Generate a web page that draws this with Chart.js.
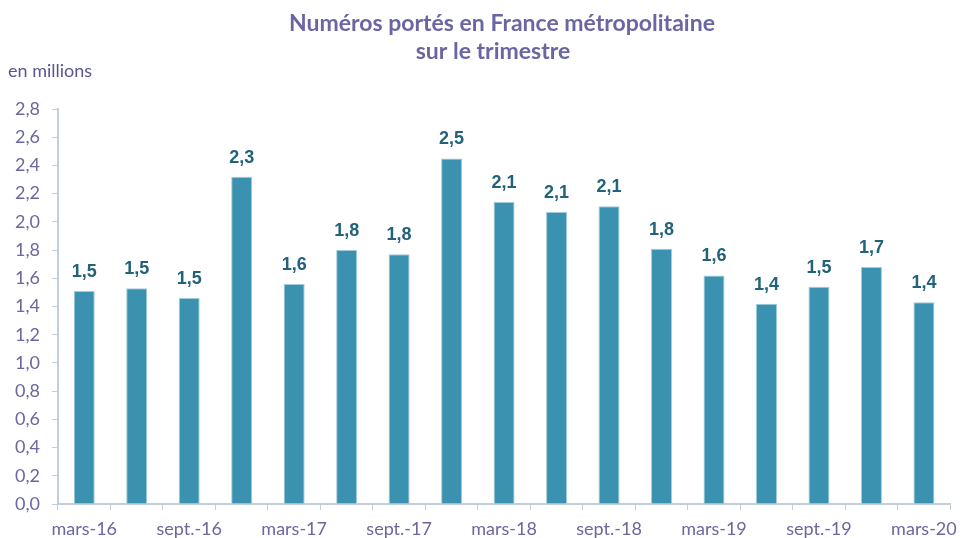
<!DOCTYPE html>
<html>
<head>
<meta charset="utf-8">
<script src="https://cdn.jsdelivr.net/npm/chart.js@4"></script>
<style>
  html, body { margin: 0; padding: 0; background: #ffffff; }
  #wrap { width: 965px; height: 538px; position: relative; }
</style>
</head>
<body>
<div id="wrap"><canvas id="chart" width="965" height="538"></canvas></div>
<script>
// Quarterly ported numbers, metropolitan France (millions)
const quarters = [
  "mars-16", "juin-16", "sept.-16", "déc.-16",
  "mars-17", "juin-17", "sept.-17", "déc.-17",
  "mars-18", "juin-18", "sept.-18", "déc.-18",
  "mars-19", "juin-19", "sept.-19", "déc.-19",
  "mars-20"
];
const ported = [
  1.51, 1.53, 1.46, 2.32,
  1.56, 1.80, 1.77, 2.45,
  2.14, 2.07, 2.11, 1.81,
  1.62, 1.42, 1.54, 1.68,
  1.43
];
const yTicks = [0, 0.2, 0.4, 0.6, 0.8, 1.0, 1.2, 1.4, 1.6, 1.8, 2.0, 2.2, 2.4, 2.6, 2.8];

const titleLines = ["Numéros portés en France métropolitaine", "sur le trimestre"];
const unitLabel = "en millions";

const axisColor = "#c3cfd6";
const tickColor = "#6b679f";
const fmt = (v) => v.toFixed(1).replace(".", ",");

// Title, unit caption and value labels above the bars
const decorations = {
  id: "decorations",
  afterDatasetsDraw(chart) {
    const ctx = chart.ctx;
    ctx.save();
    ctx.fillStyle = "#6a66a3";
    ctx.font = "bold 23px Lato, 'Open Sans', sans-serif";
    ctx.textAlign = "center";
    ctx.textBaseline = "alphabetic";
    ctx.fillText(titleLines[0], 502, 31);
    ctx.fillText(titleLines[1], 493, 59);

    ctx.font = "18px Lato, 'Open Sans', sans-serif";
    ctx.fillStyle = "#5a5690";
    ctx.textAlign = "left";
    ctx.fillText(unitLabel, 8, 77);

    ctx.font = "bold 18px 'Liberation Sans', Arial, sans-serif";
    ctx.fillStyle = "#22627a";
    ctx.textAlign = "center";
    const meta = chart.getDatasetMeta(0);
    meta.data.forEach((bar, i) => {
      ctx.fillText(fmt(ported[i]), bar.x, bar.y - 14);
    });
    ctx.restore();
  }
};

new Chart(document.getElementById("chart").getContext("2d"), {
  type: "bar",
  data: {
    labels: quarters,
    datasets: [
      {
        data: ported,
        backgroundColor: "#3a91b0",
        borderColor: "#9fcbdb",
        borderWidth: 1,
        categoryPercentage: 1,
        barPercentage: 0.4,
      },
    ],
  },
  options: {
    responsive: false,
    animation: false,
    layout: { padding: { top: 109, right: 9, left: 0, bottom: 0 } },
    plugins: {
      legend: { display: false },
      tooltip: { enabled: false },
      title: { display: false },
    },
    scales: {
      x: {
        offset: true,
        afterFit: (s) => { s.height = 34; },
        grid: {
          offset: true,
          drawOnChartArea: false,
          color: axisColor,
          tickLength: 6,
          tickColor: axisColor,
        },
        border: { color: axisColor, width: 2 },
        ticks: {
          autoSkip: false,
          maxRotation: 0,
          color: tickColor,
          font: { family: "Lato, 'Open Sans', sans-serif", size: 18 },
          padding: 8,
          callback: (v, i) => (i % 2 === 0 ? quarters[i] : ""),
        },
      },
      y: {
        min: 0,
        max: 2.8,
        afterFit: (s) => { s.width = 58; },
        afterBuildTicks: (s) => { s.ticks = yTicks.map((v) => ({ value: v })); },
        grid: {
          drawOnChartArea: false,
          color: axisColor,
          tickLength: 6,
          tickColor: axisColor,
        },
        border: { color: axisColor, width: 2 },
        ticks: {
          color: tickColor,
          font: { family: "Lato, 'Open Sans', sans-serif", size: 18 },
          padding: 12,
          callback: (v) => fmt(v),
        },
      },
    },
  },
  plugins: [decorations],
});
</script>
</body>
</html>
